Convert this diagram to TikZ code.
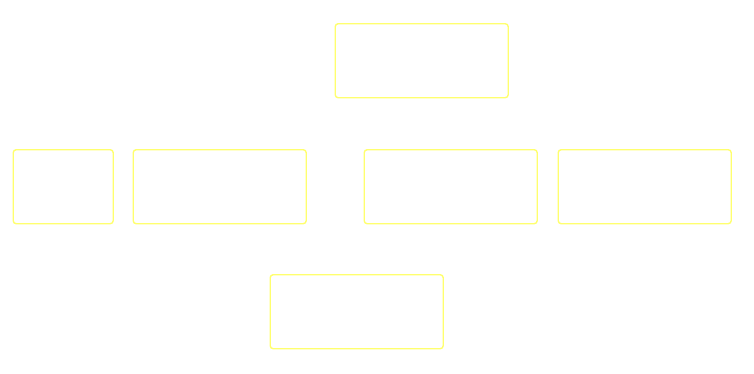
\documentclass[tikz,border=0pt]{standalone}
\definecolor{boxline}{RGB}{255,255,110}
\begin{document}
\begin{tikzpicture}[x=1pt,y=-1pt,
  box/.style={draw=boxline,fill=white,line width=1.4pt,rounded corners=3pt,minimum height=74pt,inner sep=0pt,anchor=north west}]
\fill[white] (0,0) rectangle (754,373);
\useasboundingbox (0,0) rectangle (754,373);
\node[box,minimum width=173pt] (top) at (334.5,23) {};
\node[box,minimum width=100pt] (l1) at (12.5,149) {};
\node[box,minimum width=173pt] (l2) at (132.5,149) {};
\node[box,minimum width=173pt] (r1) at (363.5,149) {};
\node[box,minimum width=173pt] (r2) at (557.5,149) {};
\node[box,minimum width=173pt] (bot) at (269.5,274) {};
\end{tikzpicture}
\end{document}
